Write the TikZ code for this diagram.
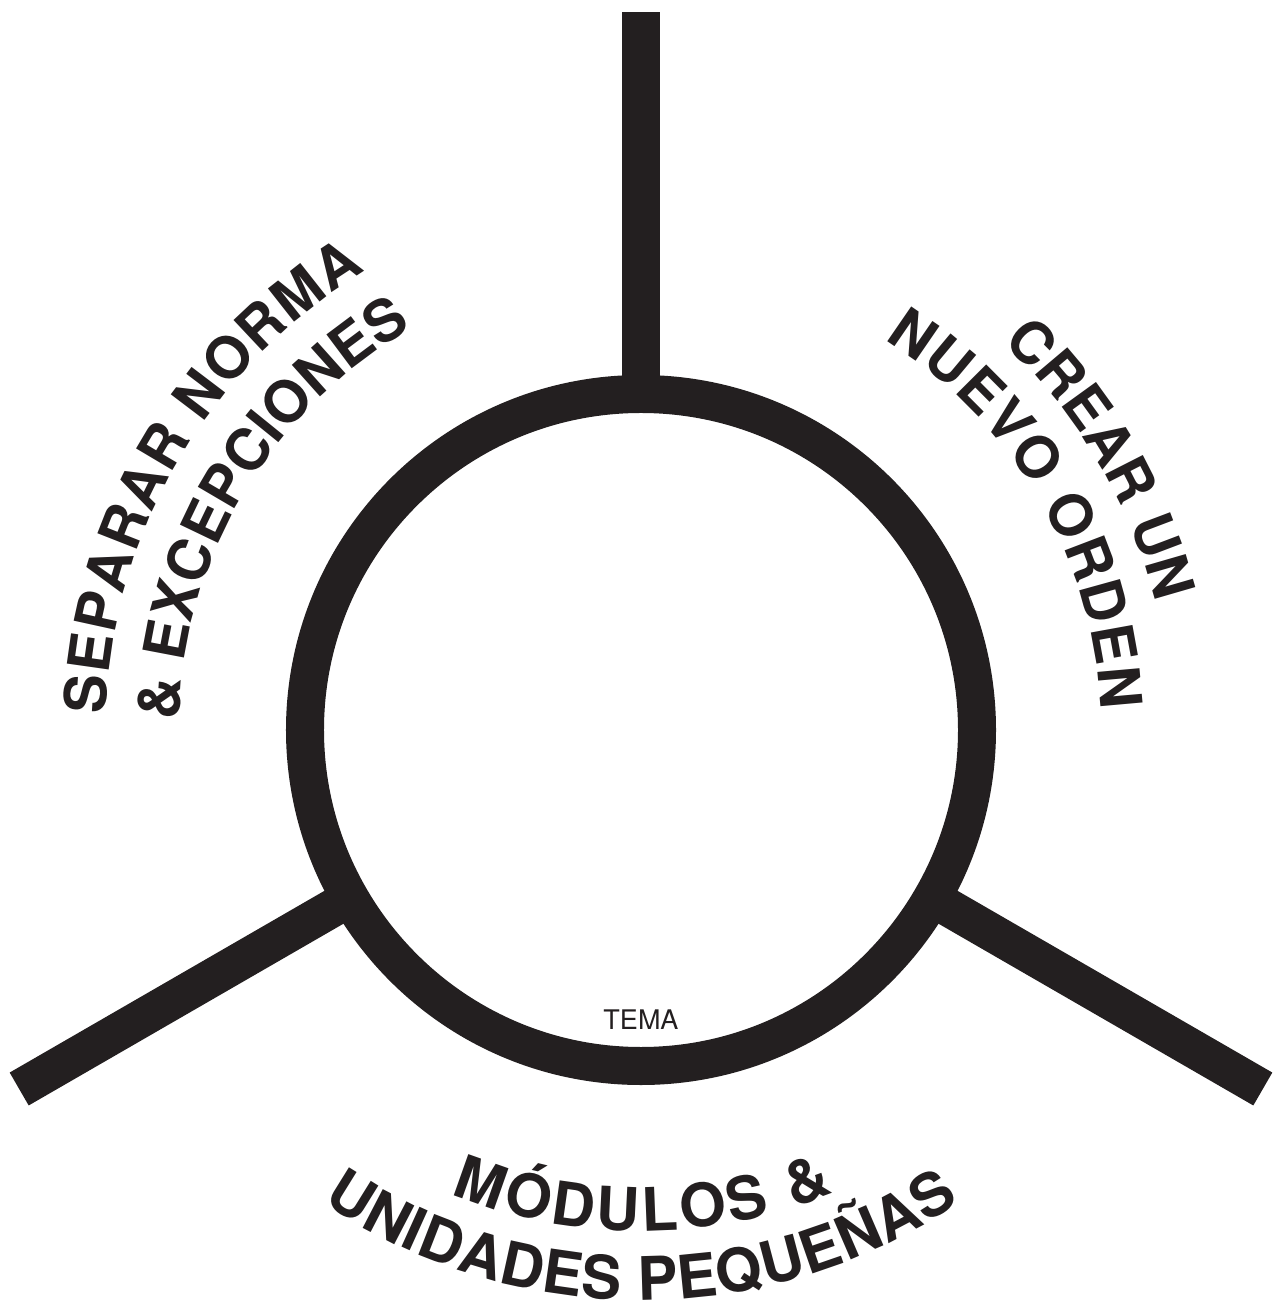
\documentclass[tikz,border=0pt]{standalone}
\usepackage{fontspec}
\setmainfont{TeX Gyre Heros}
\usepackage{tikz}
\usetikzlibrary{decorations.text}
\definecolor{ink}{RGB}{35,31,32}
\newcommand{\labfont}{\fontsize{58bp}{62bp}\selectfont\bfseries}
\newcommand{\botfont}{\fontsize{60bp}{64bp}\selectfont\bfseries}
\tikzset{
  ring/.style={draw=ink, line width=38bp},
  spoke/.style={draw=ink, line width=38bp},
  arclabel/.style={decorate, decoration={text along path, text color=ink,
      text align={fit to path}, text={|\labfont|#1}}},
  botlabel/.style={decorate, decoration={text along path, text color=ink,
      text align={fit to path}, text={|\botfont|#1}}},
  tema/.style={text=ink, font=\fontsize{27bp}{30bp}\selectfont, inner sep=0pt}
}

\begin{document}
\begin{tikzpicture}[x=1bp,y=1bp]
  \useasboundingbox (-641,-585) rectangle (633,730);
  % Define points
  \coordinate (O) at (0,0);
  \coordinate (T0) at (90:336);
  \coordinate (T) at (90:718);
  \coordinate (L0) at (210:336);
  \coordinate (L) at (210:718);
  \coordinate (R0) at (330:336);
  \coordinate (R) at (330:718);
  % Ring and spokes
  \draw[ring] (O) circle[radius=336bp];
  \draw[spoke] (T0) -- (T);
  \draw[spoke] (L0) -- (L);
  \draw[spoke] (R0) -- (R);
  % Label the sectors
  \path[arclabel=SEPARAR NORMA] (178.3:535) arc[start angle=178.3, end angle=121, radius=535bp];
  \path[arclabel={{\&} EXCEPCIONES}] (178.8:462) arc[start angle=178.8, end angle=119.6, radius=462bp];
  \path[arclabel=CREAR UN] (47:530) arc[start angle=47, end angle=14, radius=530bp];
  \path[arclabel=NUEVO ORDEN] (58.1:460) arc[start angle=58.1, end angle=2.5, radius=460bp];
  \path[botlabel={MÓDULOS {\&}}] (247.7:501) arc[start angle=247.7, end angle=292.6, radius=501bp];
  \path[botlabel=UNIDADES PEQUEÑAS] (236:570) arc[start angle=236, end angle=304, radius=570bp];
  \node[tema] (tema) at (0,-290) {TEMA};
\end{tikzpicture}
\end{document}
